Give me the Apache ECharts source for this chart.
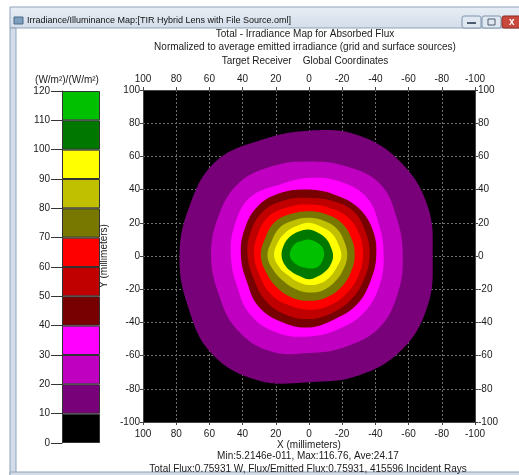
<!DOCTYPE html>
<html>
<head>
<meta charset="utf-8">
<script src="https://cdn.jsdelivr.net/npm/echarts@6/dist/echarts.min.js"></script>
</head>
<body style="margin:0;background:#fff">
<div id="main" style="width:519px;height:475px"></div>
<script>
// colour bands of the scale, (W/m2)/(W/m2)
var bandEdges = [0, 10, 20, 30, 40, 50, 60, 70, 80, 90, 100, 110, 120];
var bandColors = ['#000000', '#780078', '#c000c0', '#ff00ff', '#780000', '#c00000',
                  '#ff0000', '#787800', '#c0c000', '#ffff00', '#007800', '#00c000'];

// contour radii (mm), at these screen angles (0 = right, ccw)
var ringAngles = [0, 22.5, 45, 67.5, 90, 112.5, 135, 157.5, 180, 202.5, 225, 247.5, 270, 292.5, 315, 337.5];
var ring10  = [74.5, 77.5, 79, 78.5, 75.5, 75.6, 80, 78, 78, 79, 83, 81, 76, 78, 79.5, 77.5];
var ring20  = [56.5, 57.5, 61, 58.5, 57, 58.5, 61, 59.5, 59, 59, 62, 62, 58.5, 59, 60.5, 58];
var ring30  = [45, 46, 49.5, 48.5, 47, 46.5, 50, 48.5, 47, 47, 50, 50, 48.5, 47.5, 47.5, 46];
var ring40  = [40.5, 41.5, 41.5, 40, 40, 41.5, 43, 42, 41, 40.5, 43, 43, 43, 41, 41, 40];
var ring50  = [36.5, 37, 38, 36, 35, 36.5, 38.5, 38, 37, 36, 37.5, 38, 38, 37, 36.5, 36];
var ring60  = [32.5, 33, 33, 31.5, 31, 32, 34, 33.5, 33, 32, 32.5, 32, 32.4, 32.3, 32, 32];
var ring70  = [27.5, 27.7, 28, 27.2, 27, 27.5, 29, 28.5, 29, 27.5, 27, 27, 27, 27, 27, 27];
var ring80  = [23, 23, 23.5, 23, 23, 23.3, 24.5, 24.2, 25, 23, 21.6, 21.5, 22, 22.3, 22, 22.2];
var ring90  = [19.5, 19, 19.3, 19, 20, 19.5, 20, 20.5, 21, 19, 17, 17, 17.5, 17.8, 17.8, 18];
var ring100 = [14.5, 14.2, 14.6, 15, 16, 16, 16.3, 16.5, 16.5, 15.4, 14, 13.3, 14, 13.4, 13.5, 14];
var ring110 = [9, 9.5, 9.5, 9.5, 10, 10, 11, 11.5, 11.5, 10, 8.5, 7.5, 7.5, 8, 8.5, 8.5];
var rings = [ring10, ring20, ring30, ring40, ring50, ring60, ring70, ring80, ring90, ring100, ring110];
var ringLevels = [10, 20, 30, 40, 50, 60, 70, 80, 90, 100, 110];

var chart = echarts.init(document.getElementById('main'));
var font = 'Liberation Sans, Arial, sans-serif';
var txt = '#1a1a1a';

var gridLine = { show: true, lineStyle: { color: '#6e6e6e', width: 1, type: [2, 2] } };
function mmAxis(extra) {
  var a = {
    type: 'value', min: -100, max: 100, interval: 20, z: 1,
    axisLine: { show: true, onZero: false, lineStyle: { color: '#444' } },
    axisTick: { show: true, length: 3, lineStyle: { color: '#444' } },
    axisLabel: { color: txt, fontSize: 10, fontFamily: font, margin: 6 },
    splitLine: { show: false }
  };
  for (var k in extra) a[k] = extra[k];
  return a;
}

var series = [];
series.push({
  type: 'custom',
  coordinateSystem: 'cartesian2d',
  xAxisIndex: 0, yAxisIndex: 0,
  silent: true, z: 2,
  data: ringLevels.map(function (v) { return [0, 0, v]; }),
  encode: { x: 0, y: 1 },
  renderItem: function (params, api) {
    var radii = rings[params.dataIndex];
    var pts = radii.map(function (r, k) {
      var a = ringAngles[k] * Math.PI / 180;
      return api.coord([-r * Math.cos(a), r * Math.sin(a)]);
    });
    return {
      type: 'polygon',
      shape: { points: pts, smooth: 0.4 },
      style: { fill: bandColors[params.dataIndex + 1] }
    };
  }
});

// colour scale: stacked bands
for (var i = 0; i < bandColors.length; i++) {
  series.push({
    type: 'bar', stack: 'scale', xAxisIndex: 2, yAxisIndex: 2,
    barWidth: '100%', silent: true,
    data: [bandEdges[i + 1] - bandEdges[i]],
    itemStyle: { color: bandColors[i], borderColor: '#333', borderWidth: 1 }
  });
}

var option = {
  animation: false,
  backgroundColor: '#fff',
  textStyle: { fontFamily: font },
  title: [{
    text: 'Total - Irradiance Map for Absorbed Flux\nNormalized to average emitted irradiance (grid and surface sources)\nTarget Receiver    Global Coordinates',
    left: 300, top: 22, textAlign: 'center',
    textStyle: { fontSize: 10, fontWeight: 'normal', color: txt, lineHeight: 13.5, fontFamily: font }
  }, {
    text: 'Min:5.2146e-011, Max:116.76, Ave:24.17\nTotal Flux:0.75931 W, Flux/Emitted Flux:0.75931, 415596 Incident Rays',
    left: 303, top: 445, textAlign: 'center',
    textStyle: { fontSize: 10, fontWeight: 'normal', color: txt, lineHeight: 12.5, fontFamily: font }
  }],
  grid: [
    { left: 143, top: 90, width: 332, height: 332, show: true, backgroundColor: '#000', borderWidth: 0, outerBoundsMode: 'none' },
    { left: 62, top: 91, width: 38, height: 352, show: false, outerBoundsMode: 'none' }
  ],
  xAxis: [
    mmAxis({ gridIndex: 0, position: 'bottom', inverse: true, splitLine: gridLine,
      axisLabel: { color: txt, fontSize: 10, fontFamily: font, margin: 7 },
      name: 'X (millimeters)', nameLocation: 'middle', nameGap: 18, nameMoveOverlap: false,
      nameTextStyle: { color: txt, fontSize: 10, fontFamily: font } }),
    mmAxis({ gridIndex: 0, position: 'top', inverse: true }),
    { type: 'category', gridIndex: 1, data: ['scale'], show: false }
  ],
  yAxis: [
    mmAxis({ gridIndex: 0, position: 'left', splitLine: gridLine,
      axisLabel: { color: txt, fontSize: 10, fontFamily: font, margin: 3 },
      name: 'Y (millimeters)', nameLocation: 'middle', nameGap: 34, nameRotate: 90, nameMoveOverlap: false,
      nameTextStyle: { color: txt, fontSize: 10, fontFamily: font } }),
    mmAxis({ gridIndex: 0, position: 'right',
      axisLabel: { color: txt, fontSize: 10, fontFamily: font, margin: 3 } }),
    { type: 'value', gridIndex: 1, min: 0, max: 120, interval: 10,
      axisLine: { show: true, lineStyle: { color: '#333' } },
      axisTick: { show: true, length: 11, lineStyle: { color: '#333' } },
      axisLabel: { color: txt, fontSize: 10, fontFamily: font, margin: 12 },
      splitLine: { show: false },
      name: '(W/m²)/(W/m²)', nameLocation: 'end', nameGap: 6,
      nameTextStyle: { color: txt, fontSize: 10, fontFamily: font, align: 'center', padding: [0, 0, 0, 10] } }
  ],
  graphic: [
    // window frame
    { type: 'rect', shape: { x: 10, y: 7, width: 520, height: 21 },
      style: { fill: new echarts.graphic.LinearGradient(0, 0, 0, 1, [
        { offset: 0, color: '#e8eef5' }, { offset: 1, color: '#d3dde9' }]), stroke: '#8fa3ba', lineWidth: 1 } },
    { type: 'rect', shape: { x: 10, y: 28, width: 6, height: 447 },
      style: { fill: '#d3dde9', stroke: '#8fa3ba', lineWidth: 1 } },
    { type: 'rect', shape: { x: 10, y: 472, width: 520, height: 6 },
      style: { fill: '#d3dde9', stroke: '#8fa3ba', lineWidth: 1 } },
    { type: 'rect', shape: { x: 14, y: 17, width: 9, height: 7 },
      style: { fill: '#7f9fbf', stroke: '#4a6a8a', lineWidth: 1 } },
    { type: 'text', x: 27, y: 21,
      style: { text: 'Irradiance/Illuminance Map:[TIR Hybrid Lens with File Source.oml]',
        fill: '#111', font: '9px ' + font, verticalAlign: 'middle' } },
    { type: 'rect', shape: { x: 462, y: 16, width: 19, height: 12, r: 2 },
      style: { fill: '#dfe7f0', stroke: '#8095ad', lineWidth: 1 } },
    { type: 'rect', shape: { x: 467, y: 22, width: 9, height: 2 }, style: { fill: '#4d5d70' } },
    { type: 'rect', shape: { x: 482, y: 16, width: 19, height: 12, r: 2 },
      style: { fill: '#dfe7f0', stroke: '#8095ad', lineWidth: 1 } },
    { type: 'rect', shape: { x: 488, y: 19, width: 7, height: 6 }, style: { fill: 'none', stroke: '#4d5d70', lineWidth: 1 } },
    { type: 'rect', shape: { x: 502, y: 16, width: 22, height: 12, r: 2 },
      style: { fill: '#c9483c', stroke: '#8a2d25', lineWidth: 1 } },
    { type: 'text', x: 509, y: 22, style: { text: 'x', fill: '#fff', font: 'bold 10px ' + font, verticalAlign: 'middle' } }
  ],
  series: series
};
chart.setOption(option);
</script>
</body>
</html>
